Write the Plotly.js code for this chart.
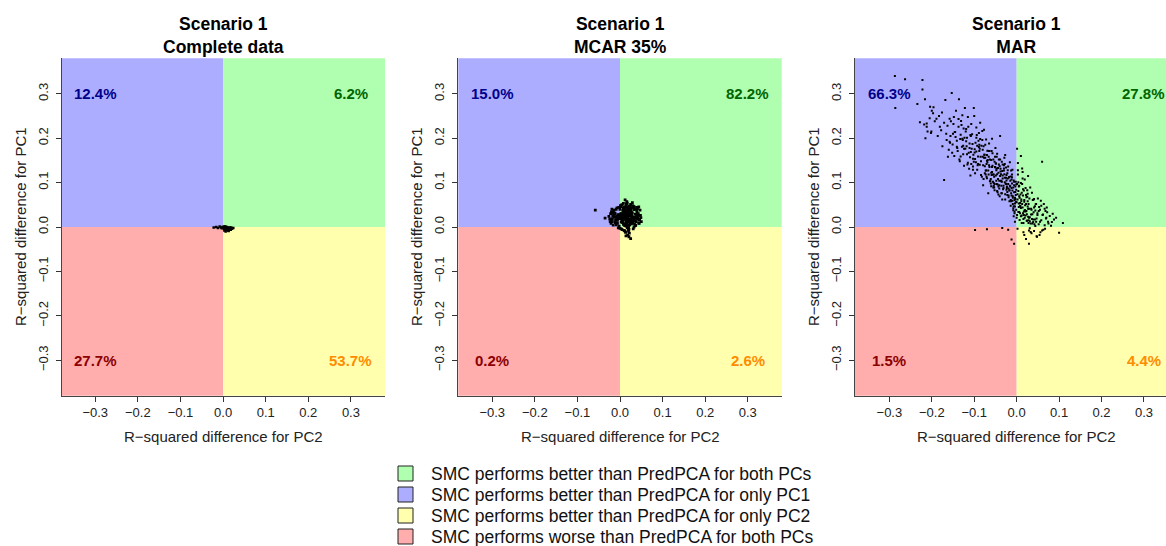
<!DOCTYPE html>
<html>
<head>
<meta charset="utf-8">
<script src="https://cdn.plot.ly/plotly-3.0.1.min.js"></script>
<style>html,body{margin:0;padding:0;background:#fff;}#chart{width:1166px;height:546px;}</style>
</head>
<body>
<div id="chart"></div>
<script>
// ---------------- DATA ----------------
const panelTitles = ['Scenario 1<br>Complete data', 'Scenario 1<br>MCAR 35%', 'Scenario 1<br>MAR'];
const xAxisLabel = 'R\u2212squared difference for PC2';
const yAxisLabel = 'R\u2212squared difference for PC1';
const tickValues = [-0.3, -0.2, -0.1, 0.0, 0.1, 0.2, 0.3];
const tickLabels = ['\u22120.3', '\u22120.2', '\u22120.1', '0.0', '0.1', '0.2', '0.3'];

// quadrant percentages: [upper-left, upper-right, lower-left, lower-right]
const pctComplete = ['12.4%', '6.2%', '27.7%', '53.7%'];
const pctMCAR = ['15.0%', '82.2%', '0.2%', '2.6%'];
const pctMAR = ['66.3%', '27.8%', '1.5%', '4.4%'];

const legendLabels = [
  'SMC performs better than PredPCA for both PCs',
  'SMC performs better than PredPCA for only PC1',
  'SMC performs better than PredPCA for only PC2',
  'SMC performs worse than PredPCA for both PCs'
];

// Complete data
const complX = [-0.022,-0.016,-0.012,-0.008,-0.005,-0.003,-0.001,0.001,0.002,0.003,
  0.004,0.005,0.006,0.007,0.008,0.009,0.010,0.011,0.012,0.013,
  0.014,0.015,0.017,0.019,0.021,0.024,0.003,0.006,0.009,0.012,
  0.005,0.008,0.011,0.014,0.002,0.007,0.010,0.013,0.016,0.018];
const complY = [-0.001,0.000,-0.002,0.001,-0.001,-0.003,0.000,-0.002,0.001,-0.004,
  -0.001,-0.006,-0.002,-0.003,0.000,-0.005,-0.002,-0.004,-0.001,-0.007,
  -0.003,-0.002,-0.005,-0.001,-0.004,-0.002,-0.008,-0.010,-0.006,-0.003,
  0.001,-0.004,-0.008,-0.005,-0.002,0.000,-0.003,-0.009,-0.001,-0.006];

// MCAR 35%
const mcarX = [0.015,0.008,0.022,0.012,0.019,0.003,0.027,0.016,0.010,0.024,
  0.014,0.006,0.020,0.031,0.017,0.011,0.025,0.002,0.018,0.013,
  0.029,0.009,0.021,0.015,0.005,0.023,0.016,0.012,0.033,0.019,
  0.007,0.026,0.014,0.010,0.020,-0.002,0.017,0.028,0.013,0.022,
  0.011,0.018,0.004,0.025,0.016,0.036,0.009,0.021,0.014,0.030,
  0.012,0.019,0.001,0.024,0.017,0.008,0.027,0.015,0.020,0.010,
  0.023,0.006,0.032,0.016,0.013,0.026,-0.004,0.018,0.011,0.021,
  0.014,0.035,0.009,0.022,0.017,0.003,0.028,0.012,0.019,0.025,
  -0.008,0.040,-0.012,0.038,0.002,0.030,-0.006,0.042,0.015,0.020,
  0.007,0.033,-0.015,0.036,0.012,0.024,-0.020,0.041,0.010,0.027,
  -0.058,-0.035,0.012,0.029,0.025,0.018,0.022,0.031,0.005,0.014,
  -0.026,-0.018,0.039,0.044,0.000,0.016,0.021,0.034,0.008,-0.010,
  -0.018,-0.012,-0.006,0.000,0.006,0.012,0.018,0.024,0.030,0.036,0.042,
  -0.015,-0.009,-0.003,0.003,0.009,0.015,0.021,0.027,0.033,0.039,0.045,
  -0.020,-0.014,-0.008,-0.002,0.004,0.010,0.016,0.022,0.028,0.034,0.040,
  -0.016,-0.010,-0.004,0.002,0.008,0.014,0.020,0.026,0.032,0.038,0.044,
  -0.013,-0.007,-0.001,0.005,0.011,0.017,0.023,0.029,0.035,0.041,
  -0.011,-0.005,0.001,0.007,0.013,0.019,0.025,0.031,0.037,
  -0.009,-0.003,0.003,0.009,0.015,0.021,0.027,0.033,0.039,
  -0.024,-0.022,-0.021,-0.019,-0.017,-0.023,0.043,0.046,0.048,0.047,
  0.045,0.049,-0.020,0.044,-0.016,0.050];
const mcarY = [0.022,0.028,0.018,0.035,0.012,0.024,0.026,0.006,0.019,0.031,
  0.015,0.010,0.037,0.021,0.027,0.003,0.014,0.030,0.040,0.023,
  0.011,0.033,0.025,0.017,0.020,0.008,0.044,0.026,0.019,0.029,
  0.038,0.016,0.002,0.022,0.013,0.027,0.034,0.024,0.009,0.041,
  0.018,0.021,0.015,0.032,0.007,0.020,0.028,0.004,0.036,0.013,
  0.024,0.030,0.019,0.016,0.025,0.042,0.010,0.029,0.001,0.023,
  0.035,0.026,0.017,0.014,0.031,0.038,0.021,0.012,0.027,0.045,
  0.005,0.022,0.018,0.033,-0.002,0.030,0.020,0.039,0.016,0.025,
  0.021,0.027,0.030,0.012,0.046,0.048,0.015,0.020,0.052,-0.006,
  0.036,0.039,0.025,0.003,-0.010,0.047,0.032,0.018,-0.008,0.007,
  0.038,0.020,0.061,0.055,-0.026,-0.018,-0.014,-0.004,0.050,-0.020,
  0.024,0.012,0.044,0.026,-0.003,0.057,-0.022,0.041,0.006,0.015,
  0.018,0.031,0.008,0.040,0.013,0.046,0.003,0.036,0.010,0.029,0.021,
  0.027,0.005,0.044,-0.004,0.034,0.049,0.012,0.043,0.000,0.038,0.016,
  0.012,0.038,0.024,0.002,0.050,-0.008,0.030,0.047,0.026,0.007,0.033,
  0.033,0.015,-0.002,0.027,0.053,0.017,-0.010,0.024,0.045,0.020,0.009,
  0.022,0.043,0.019,-0.006,0.039,0.054,0.005,0.032,0.014,0.041,
  0.010,0.028,0.048,0.018,-0.012,0.036,0.051,0.022,0.004,
  0.040,0.021,0.011,0.044,0.028,-0.005,0.033,0.046,0.026,
  0.018,0.030,0.008,0.040,0.024,0.012,0.030,0.016,0.026,0.038,
  0.008,0.021,0.034,0.045,0.004,0.012];

// MAR
const marX = [
  -0.287,-0.263,-0.222,-0.222,-0.286,-0.216,-0.234,-0.218,-0.212,-0.215,
  -0.205,-0.200,-0.196,-0.210,-0.202,-0.228,-0.204,-0.197,-0.189,-0.212,
  -0.201,-0.181,-0.186,-0.193,-0.183,
  -0.178,-0.175,-0.171,-0.168,-0.165,-0.163,-0.160,-0.158,-0.156,-0.153,
  -0.151,-0.149,-0.147,-0.145,-0.143,-0.141,-0.139,-0.137,-0.136,-0.134,
  -0.132,-0.131,-0.129,-0.128,-0.127,-0.126,-0.125,-0.124,-0.123,-0.122,
  -0.121,-0.120,-0.176,-0.166,-0.157,-0.148,-0.140,-0.133,-0.171,-0.162,
  -0.118,-0.103,-0.095,-0.112,-0.087,-0.071,-0.108,-0.066,-0.099,-0.081,
  -0.115,-0.092,-0.076,-0.104,-0.062,-0.089,-0.110,-0.073,-0.097,-0.084,
  -0.069,-0.101,-0.117,-0.079,-0.091,-0.064,-0.106,-0.086,-0.074,-0.098,
  -0.113,-0.068,-0.094,-0.082,-0.107,-0.061,-0.088,-0.077,-0.100,-0.070,
  -0.114,-0.083,-0.096,-0.065,-0.109,-0.075,-0.090,-0.102,-0.067,-0.085,
  -0.111,-0.072,-0.093,-0.080,-0.063,-0.105,-0.078,-0.119,-0.087,-0.060,
  -0.098,-0.074,-0.116,-0.089,-0.066,-0.103,-0.081,-0.095,-0.070,-0.108,
  -0.058,-0.044,-0.031,-0.017,-0.005,-0.052,-0.038,-0.024,-0.011,-0.002,
  -0.056,-0.047,-0.035,-0.021,-0.008,-0.050,-0.041,-0.028,-0.014,-0.004,
  -0.059,-0.043,-0.033,-0.019,-0.007,-0.054,-0.039,-0.026,-0.012,-0.001,
  -0.057,-0.046,-0.030,-0.016,-0.009,-0.049,-0.036,-0.023,-0.013,-0.003,
  -0.055,-0.042,-0.034,-0.020,-0.006,-0.051,-0.037,-0.025,-0.010,-0.002,
  -0.053,-0.045,-0.029,-0.018,-0.008,-0.048,-0.040,-0.027,-0.015,-0.004,
  -0.060,-0.044,-0.032,-0.022,-0.011,-0.047,-0.035,-0.024,-0.013,-0.005,
  -0.056,-0.041,-0.030,-0.017,-0.006,-0.052,-0.038,-0.027,-0.012,-0.003,
  -0.058,-0.043,-0.033,-0.020,-0.009,-0.050,-0.036,-0.022,-0.014,-0.001,
  -0.054,-0.046,-0.028,-0.019,-0.007,-0.049,-0.039,-0.025,-0.010,-0.004,
  0.002,0.008,0.015,0.021,0.028,0.034,0.041,0.047,0.005,0.012,
  0.018,0.025,0.031,0.038,0.044,0.003,0.010,0.016,0.023,0.029,
  0.036,0.042,0.049,0.006,0.013,0.019,0.026,0.032,0.039,0.045,
  0.001,0.009,0.014,0.022,0.027,0.035,0.040,0.046,0.004,0.011,
  0.017,0.024,0.030,0.037,0.043,0.007,0.013,0.020,0.026,0.033,
  0.002,0.010,0.016,0.021,0.029,0.036,0.044,0.005,0.012,0.018,
  0.024,0.031,0.039,0.048,0.003,0.008,0.015,0.022,0.028,0.035,
  0.010,0.019,0.001,0.014,0.006,0.027,0.004,0.017,0.029,0.041,
  0.052,0.055,0.058,0.061,0.063,0.066,0.069,0.072,0.075,0.078,
  0.081,0.085,0.088,0.093,0.100,0.109,0.054,0.060,0.057,0.067,
  0.050,0.064,0.071,0.056,0.083,
  -0.098,-0.070,-0.020,-0.006,-0.012,-0.034,
  -0.158,-0.152,-0.146,-0.141,-0.137,-0.132,-0.128,-0.124,-0.119,-0.115,
  -0.111,-0.107,-0.103,-0.099,-0.095,-0.091,-0.088,-0.084,-0.080,-0.155,
  -0.144,-0.135,-0.126,-0.117,-0.109,-0.101,-0.093,-0.086,-0.150,-0.130,
  -0.079,-0.076,-0.073,-0.070,-0.067,-0.064,-0.061,-0.058,-0.055,-0.052,
  -0.049,-0.046,-0.043,-0.040,-0.037,-0.034,-0.031,-0.028,-0.025,-0.022,
  -0.078,-0.072,-0.066,-0.060,-0.054,-0.048,-0.042,-0.036,-0.030,-0.024,
  -0.075,-0.069,-0.063,-0.057,-0.051,-0.045,-0.039,-0.033,-0.027,-0.021,
  -0.077,-0.071,-0.065,-0.059,-0.053,-0.047,-0.041,-0.035,-0.029,-0.023,
  -0.019,-0.016,-0.013,-0.010,-0.007,-0.004,-0.001,0.002,0.005,0.008,
  0.011,0.014,0.017,0.020,0.023,0.026,0.029,-0.018,-0.012,-0.006,
  0.000,0.006,0.012,0.018,0.024,-0.015,-0.009,-0.003,0.003,0.009,
  0.015,0.021,0.027,-0.017,-0.011,-0.005,0.001,0.007,0.013,0.019,
  0.025,-0.014,-0.008,-0.002,0.004,0.010,0.016,0.022,0.028,0.000,
  0.031,0.034,0.037,0.040,0.043,0.046,0.049,0.052,0.055,0.058,
  0.062,0.066,0.070,0.074,0.033,0.041,0.047,0.053,0.060,0.068];
const marY = [
  0.340,0.333,0.331,0.310,0.268,0.288,0.277,0.231,0.226,0.200,
  0.245,0.262,0.270,0.215,0.212,0.236,0.271,0.256,0.244,0.233,
  0.215,0.226,0.205,0.238,0.250,
  0.218,0.182,0.106,0.286,0.196,0.228,0.174,0.244,0.205,0.302,
  0.186,0.232,0.160,0.214,0.262,0.194,0.171,0.226,0.288,0.148,
  0.208,0.239,0.181,0.252,0.196,0.164,0.222,0.138,0.201,0.268,
  0.176,0.215,0.258,0.210,0.190,0.248,0.178,0.198,0.235,0.158,
  0.182,0.154,0.224,0.131,0.176,0.142,0.205,0.118,0.168,0.196,
  0.248,0.139,0.163,0.187,0.104,0.212,0.157,0.127,0.190,0.148,
  0.172,0.268,0.201,0.094,0.159,0.135,0.176,0.235,0.185,0.121,
  0.167,0.151,0.207,0.113,0.142,0.098,0.171,0.219,0.250,0.162,
  0.226,0.183,0.146,0.188,0.116,0.137,0.194,0.163,0.076,0.158,
  0.178,0.197,0.129,0.174,0.152,0.209,0.108,0.193,0.140,0.122,
  0.153,0.156,0.141,0.180,0.171,0.136,0.216,0.170,0.110,0.169,
  0.124,0.108,0.093,0.082,0.061,0.147,0.131,0.117,0.098,0.072,
  0.102,0.158,0.076,0.128,0.089,0.134,0.087,0.142,0.114,0.046,
  0.171,0.122,0.109,0.067,0.105,0.093,0.152,0.098,0.071,0.084,
  0.138,0.081,0.127,0.146,0.052,0.116,0.103,0.088,0.127,0.063,
  0.089,0.141,0.062,0.097,0.078,0.158,0.119,0.134,0.059,0.102,
  0.113,0.096,0.156,0.112,0.038,0.128,0.069,0.074,0.091,0.053,
  0.151,0.133,0.085,0.121,0.112,0.097,0.147,0.105,0.076,0.031,
  0.118,0.104,0.139,0.058,0.094,0.083,0.125,0.162,0.107,0.079,
  0.199,0.073,0.116,0.136,0.066,0.178,0.093,0.079,0.048,0.096,
  0.099,0.165,0.101,0.087,0.024,0.143,0.205,0.111,0.129,0.012,
  0.062,0.048,0.071,0.035,0.052,0.028,0.044,0.019,0.091,0.026,
  0.057,0.083,0.013,0.061,0.037,0.118,0.043,0.009,0.067,0.041,
  0.077,0.006,0.031,0.034,0.097,0.021,0.046,0.089,0.017,0.052,
  0.027,0.073,0.109,0.052,0.023,0.039,0.062,0.012,0.081,0.058,
  0.035,0.014,0.064,0.029,0.047,0.016,0.132,0.038,0.075,0.008,
  -0.004,0.024,-0.012,0.088,-0.008,0.018,0.002,0.045,0.009,-0.018,
  0.029,-0.003,0.011,-0.022,0.144,0.054,0.031,-0.027,0.015,-0.014,
  0.160,0.107,0.176,0.124,0.069,0.115,0.101,0.082,-0.038,-0.009,
  0.036,0.012,0.048,0.027,-0.006,0.041,0.019,0.033,0.008,0.025,
  0.003,0.030,0.017,0.021,-0.013,0.009,-0.018,0.147,0.059,-0.004,
  0.064,0.052,0.044,-0.012,0.011,
  -0.007,-0.005,-0.006,-0.038,-0.028,-0.002,
  0.192,0.167,0.214,0.181,0.243,0.159,0.199,0.176,0.221,0.145,
  0.188,0.232,0.129,0.175,0.201,0.142,0.185,0.117,0.158,0.238,
  0.203,0.152,0.183,0.164,0.207,0.147,0.183,0.198,0.210,0.230,
  0.139,0.163,0.118,0.149,0.127,0.171,0.108,0.135,0.152,0.097,
  0.143,0.119,0.091,0.137,0.104,0.126,0.088,0.111,0.097,0.072,
  0.182,0.127,0.158,0.092,0.118,0.104,0.152,0.076,0.132,0.084,
  0.121,0.146,0.103,0.166,0.135,0.078,0.115,0.141,0.062,0.109,
  0.156,0.113,0.139,0.117,0.089,0.131,0.094,0.102,0.119,0.091,
  0.071,0.093,0.058,0.082,0.047,0.066,0.039,0.074,0.053,0.031,
  0.062,0.044,0.027,0.049,0.036,0.058,0.021,0.112,0.088,0.102,
  0.056,0.093,0.077,0.061,0.014,0.104,0.069,0.091,0.128,0.047,
  0.085,0.026,0.041,0.083,0.118,0.035,0.097,0.066,0.052,0.038,
  0.068,0.061,0.042,0.057,0.034,0.099,0.018,0.072,0.009,0.021,
  0.022,0.041,0.008,0.033,0.017,0.052,0.027,0.006,0.039,0.015,
  0.028,0.004,0.021,0.012,-0.011,0.063,-0.021,0.045,-0.008,0.036];

// ---------------- STYLE / LAYOUT ----------------
const FONT = '"Liberation Sans", Arial, Helvetica, sans-serif';
const W = 1166, H = 546;
const colUR = '#B0FFB0', colUL = '#ADADFF', colLR = '#FFFFAD', colLL = '#FFADAD';
const pctColors = ['#00008B', '#006400', '#8B0000', '#FF8C00'];
const legendColors = [colUR, colUL, colLR, colLL];

const panelData = [[complX, complY, pctComplete], [mcarX, mcarY, pctMCAR], [marX, marY, pctMAR]];
const markerSizes = [2.5, 2.8, 2];
const xDomains = [[62/W, 385/W], [458.3/W, 781.7/W], [855/W, 1]];
const xRanges = [[-0.378, 0.380], [-0.3796, 0.3796], [-0.381, 0.352]];
const yDomain = [1 - 395.7/H, 1 - 58.3/H];
const yRange = [-0.38, 0.38];
const yTitleX = [20, 416, 813];

const traces = [];
const shapes = [];
const annotations = [];
const layout = {
  width: W, height: H,
  margin: {l: 0, r: 0, t: 0, b: 0},
  paper_bgcolor: '#ffffff', plot_bgcolor: '#ffffff',
  showlegend: false, hovermode: false,
  font: {family: FONT, color: '#000'}
};

panelData.forEach((pd, i) => {
  const n = i === 0 ? '' : String(i + 1);
  const xa = 'x' + n, ya = 'y' + n;
  traces.push({
    type: 'scatter', mode: 'markers', x: pd[0], y: pd[1], xaxis: xa, yaxis: ya,
    marker: {symbol: 'square', size: markerSizes[i], color: '#000', line: {width: 0}},
    cliponaxis: true
  });
  const axCommon = {
    showline: true, linecolor: '#444', linewidth: 1, mirror: false,
    ticks: 'outside', ticklen: 5, tickwidth: 1, tickcolor: '#333',
    tickmode: 'array', tickvals: tickValues, ticktext: tickLabels,
    showgrid: false, zeroline: false, fixedrange: true,
    tickfont: {family: FONT, size: 13, color: '#222'}
  };
  layout['xaxis' + n] = Object.assign({}, axCommon, {domain: xDomains[i], range: xRanges[i], anchor: ya});
  layout['yaxis' + n] = Object.assign({}, axCommon, {domain: yDomain, range: yRange, anchor: xa, tickangle: -90, ticklabelstandoff: 3});

  const xr = [-0.4, 0.4], yr = [-0.4, 0.4];
  const quads = [[xr[0], 0, 0, yr[1], colUL], [0, xr[1], 0, yr[1], colUR], [xr[0], 0, yr[0], 0, colLL], [0, xr[1], yr[0], 0, colLR]];
  quads.forEach(q => shapes.push({type: 'rect', xref: xa, yref: ya, x0: q[0], x1: q[1], y0: q[2], y1: q[3],
    fillcolor: q[4], line: {width: 0}, layer: 'below'}));

  const pctPos = [[-0.3, 0.3], [0.3, 0.3], [-0.3, -0.3], [0.3, -0.3]];
  pd[2].forEach((t, k) => annotations.push({xref: xa, yref: ya, x: pctPos[k][0], y: pctPos[k][1], text: '<b>' + t + '</b>',
    showarrow: false, xanchor: 'center', yanchor: 'middle', font: {family: FONT, size: 15, color: pctColors[k]}}));

  annotations.push({xref: xa, yref: 'paper', x: 0, y: 1 - 35/H, text: '<b>' + panelTitles[i] + '</b>', showarrow: false,
    xanchor: 'center', yanchor: 'middle', font: {family: FONT, size: 17.5, color: '#000'}});
  annotations.push({xref: xa, yref: 'paper', x: 0, y: 1 - 436/H, text: xAxisLabel, showarrow: false,
    xanchor: 'center', yanchor: 'middle', font: {family: FONT, size: 15, color: '#222'}});
  annotations.push({xref: 'paper', yref: 'paper', x: yTitleX[i]/W, y: 1 - 227/H, text: yAxisLabel, textangle: -90, showarrow: false,
    xanchor: 'center', yanchor: 'middle', font: {family: FONT, size: 15, color: '#222'}});
});

// legend (bottom centre)
legendLabels.forEach((lab, k) => {
  const top = 466 + k * 21;
  shapes.push({type: 'rect', xref: 'paper', yref: 'paper', x0: 398/W, x1: 413/W, y0: 1 - (top + 15)/H, y1: 1 - top/H,
    fillcolor: legendColors[k], line: {color: '#222', width: 1}});
  annotations.push({xref: 'paper', yref: 'paper', x: 429/W, y: 1 - (top + 7.5)/H, text: lab, showarrow: false,
    xanchor: 'left', yanchor: 'middle', font: {family: FONT, size: 17.5, color: '#111'}});
});

layout.shapes = shapes;
layout.annotations = annotations;

Plotly.newPlot('chart', traces, layout, {staticPlot: true, displayModeBar: false});
</script>
</body>
</html>
